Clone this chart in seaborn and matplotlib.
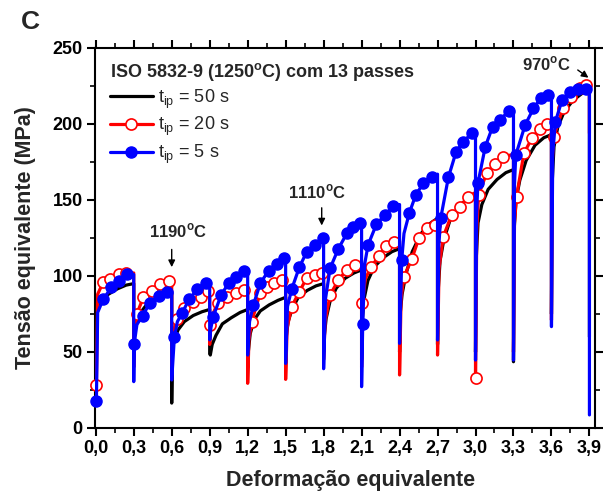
import numpy as np
import pandas as pd
import matplotlib
matplotlib.use("Agg")
import matplotlib.pyplot as plt
import seaborn as sns
from matplotlib.lines import Line2D
from matplotlib.ticker import MultipleLocator, FuncFormatter

# ---------------- data ----------------
pass_start = [0.0, 0.3, 0.6, 0.9, 1.2, 1.5, 1.8, 2.1, 2.4, 2.7, 3.0, 3.3, 3.6]
pass_len = 0.3
pass_end = 3.9

# ---- t_ip = 50 s (black, continuous line) ----
black_low = [60, 52, 16.4, 49, 40, 45, 50, 45, 50, 55, 50, 43.6, 75]
black_end_low = 60
black_off = [0.005, 0.02, 0.05, 0.10, 0.17, 0.24, 0.30]
black_vals = [
    [72, 80, 85, 88, 91.5, 94, 95],
    [62, 70, 75.5, 81, 85, 87.5, 89],
    [52, 58, 64.5, 70, 74, 76.5, 78],
    [48, 55, 61, 68.5, 72.5, 76, 78],
    [50, 62, 71, 77, 81, 84, 86],
    [60, 70, 78, 86, 90.5, 93.5, 95],
    [60, 72, 83, 92, 98.5, 102, 104],
    [70, 85, 97, 106, 112, 116, 118],
    [75, 88, 101, 116, 128, 134.5, 138],
    [90, 110, 124, 137, 146, 151, 154],
    [110, 135, 147, 157, 163.5, 168, 170],
    [130, 150, 163, 176, 186, 191, 193],
    [160, 185, 198, 208, 215.5, 220, 222],
]

# ---- t_ip = 20 s (red, open circles) ----
red_low = [28, 40, 35, 55, 29.4, 32, 45, 40, 34.9, 48, 33.1, 50, 71]
red_end_low = 194
red_mark_off = [
    [0.005, 0.058, 0.116, 0.184, 0.24],
    [0.024, 0.076, 0.142, 0.208, 0.279],
    [0.039, 0.10, 0.165, 0.23, 0.288],
    [0.005, 0.065, 0.14, 0.209, 0.269],
    [0.032, 0.098, 0.15, 0.21, 0.27],
    [0.048, 0.108, 0.166, 0.23, 0.29],
    [0.051, 0.117, 0.183, 0.248],
    [0.007, 0.073, 0.139, 0.192, 0.257],
    [0.035, 0.096, 0.154, 0.22, 0.28],
    [0.045, 0.111, 0.177, 0.243],
    [0.0, 0.024, 0.087, 0.156, 0.219],
    [0.024, 0.082, 0.148, 0.206, 0.261],
    [0.019, 0.09, 0.156, 0.222, 0.274],
]
red_mark_val = [
    [28, 95.8, 97.8, 101, 102],
    [75, 86, 90.3, 94.5, 96.9],
    [72, 79, 83, 86.4, 90.3],
    [68, 82.5, 86.4, 88.6, 90.8],
    [70, 88.6, 93, 95.5, 97.6],
    [79.8, 89.7, 98.5, 100.5, 101.8],
    [87.5, 97.4, 104, 107],
    [82.5, 106, 113, 119.7, 122.6],
    [99.6, 111, 125.2, 131.4, 133.5],
    [125.9, 140, 145.6, 152.2],
    [33.1, 153.3, 167.5, 174, 178.5],
    [152.2, 180.7, 191, 196.7, 200],
    [191.6, 210.3, 218, 223.5, 225.6],
]
red_knee_off = [0.015, 0.008, 0.01, 0.02, 0.01, 0.012, 0.012, 0.03, 0.012, 0.012, 0.01, 0.008, 0.006]
red_knee_val = [88, 66, 60, 74, 58, 66, 70, 98, 85, 105, 130, 135, 175]
red_end = [102, 98, 91, 92, 98, 103, 108, 123, 134, 155, 180, 201, 226]

# ---- t_ip = 5 s (blue, filled circles) ----
blue_low = [18, 30.5, 31.6, 58, 48, 42.5, 39, 27.2, 55.7, 57.9, 44.7, 44.7, 66.7]
blue_end_low = 8.6
blue_mark_off = [
    [0.005, 0.058, 0.124, 0.187, 0.25],
    [0.003, 0.07, 0.13, 0.20, 0.26],
    [0.021, 0.084, 0.137, 0.203, 0.268],
    [0.028, 0.09, 0.149, 0.207, 0.273],
    [0.045, 0.10, 0.165, 0.228, 0.285],
    [0.048, 0.108, 0.167, 0.232, 0.293],
    [0.051, 0.116, 0.183, 0.235, 0.285],
    [0.009, 0.051, 0.117, 0.183, 0.25],
    [0.017, 0.078, 0.128, 0.188, 0.254],
    [0.025, 0.086, 0.147, 0.205, 0.27],
    [0.019, 0.077, 0.135, 0.195, 0.261],
    [0.018, 0.092, 0.158, 0.216, 0.276],
    [0.031, 0.084, 0.144, 0.208, 0.274],
]
blue_mark_val = [
    [18, 84.6, 92.5, 96.9, 101.3],
    [55, 74, 82.5, 87, 89.5],
    [59.7, 75.9, 84.6, 91.2, 95.6],
    [73.2, 87.5, 95.2, 99.6, 103.5],
    [80.9, 95.2, 103.5, 108, 111.6],
    [91.4, 105.7, 116, 120.4, 124.8],
    [105, 117.8, 128, 132.5, 135],
    [68.4, 120.4, 134, 140, 146],
    [110.5, 141.7, 153.3, 161, 165.4],
    [138, 165, 181.8, 188.4, 193.9],
    [161, 185, 198.2, 202.6, 208.6],
    [179.6, 199.3, 210.3, 216.9, 219],
    [201.5, 215.8, 221.3, 222.8, 222.8],
]
blue_knee_off = [0.015, 0.025, 0.045, 0.01, 0.015, 0.015, 0.015, 0.025, 0.035, 0.01, 0.008, 0.008, 0.01]
blue_knee_val = [76, 68, 70, 66, 70, 80, 85, 108, 128, 120, 140, 160, 180]
blue_end = [101, 90, 96, 104.5, 112, 125, 135.5, 147, 167, 195, 209.5, 220, 223]

legend_title = "ISO 5832-9 (1250$^{\\mathregular{o}}$C) com 13 passes"
labels = ["t$_{\\mathregular{ip}}$ = 50 s", "t$_{\\mathregular{ip}}$ = 20 s", "t$_{\\mathregular{ip}}$ = 5 s"]


def build_black():
    xs, ys = [], []
    for k, s0 in enumerate(pass_start):
        xs.append(s0)
        ys.append(black_low[k])
        for off, v in zip(black_off, black_vals[k]):
            xs.append(s0 + off)
            ys.append(v)
    xs.append(pass_end)
    ys.append(black_end_low)
    return pd.DataFrame({"strain": xs, "stress": ys})


def build_marked(low, m_off, m_val, k_off, k_val, end, end_low):
    xs, ys, mx, my = [], [], [], []
    for k, s0 in enumerate(pass_start):
        pts = list(zip(m_off[k], m_val[k])) + [(k_off[k], k_val[k])]
        pts.sort(key=lambda p: p[0])
        xs.append(s0)
        ys.append(low[k])
        for off, v in pts:
            xs.append(s0 + off)
            ys.append(v)
        xs.append(s0 + pass_len)
        ys.append(end[k])
        for off, v in zip(m_off[k], m_val[k]):
            mx.append(s0 + off)
            my.append(v)
    xs.append(pass_end)
    ys.append(end_low)
    return (pd.DataFrame({"strain": xs, "stress": ys}),
            pd.DataFrame({"strain": mx, "stress": my}))


black_line = build_black()
red_line, red_marks = build_marked(red_low, red_mark_off, red_mark_val, red_knee_off,
                                   red_knee_val, red_end, red_end_low)
blue_line, blue_marks = build_marked(blue_low, blue_mark_off, blue_mark_val, blue_knee_off,
                                     blue_knee_val, blue_end, blue_end_low)

# ---------------- style ----------------
sns.set_theme(style="ticks")
plt.rcParams["font.family"] = ["Liberation Sans", "DejaVu Sans"]
plt.rcParams["mathtext.fontset"] = "custom"
plt.rcParams["mathtext.rm"] = "Liberation Sans"
plt.rcParams["mathtext.bf"] = "Liberation Sans:bold"

BLACK, RED, BLUE = "#000000", "#FF0000", "#0000FF"

fig = plt.figure(figsize=(6.04, 5.0), dpi=100)
ax = fig.add_axes([0.1575, 0.144, 0.8276, 0.76])

lw = 2.3
sns.lineplot(data=black_line, x="strain", y="stress", sort=False, estimator=None,
             color=BLACK, linewidth=lw, ax=ax, zorder=2)
sns.lineplot(data=red_line, x="strain", y="stress", sort=False, estimator=None,
             color=RED, linewidth=lw, ax=ax, zorder=3)
ax.plot(red_marks["strain"], red_marks["stress"], linestyle="none", marker="o",
        markersize=8, markerfacecolor="white", markeredgecolor=RED,
        markeredgewidth=1.2, zorder=4, clip_on=False)
sns.lineplot(data=blue_line, x="strain", y="stress", sort=False, estimator=None,
             color=BLUE, linewidth=lw, ax=ax, zorder=5)
ax.plot(blue_marks["strain"], blue_marks["stress"], linestyle="none", marker="o",
        markersize=8, markerfacecolor=BLUE, markeredgecolor=BLUE, zorder=6,
        clip_on=False)

ax.set_xlim(-0.005, 3.944)
ax.set_ylim(0, 250)
ax.xaxis.set_major_locator(MultipleLocator(0.3))
ax.xaxis.set_minor_locator(MultipleLocator(0.15))
ax.yaxis.set_major_locator(MultipleLocator(50))
ax.yaxis.set_minor_locator(MultipleLocator(25))
ax.xaxis.set_major_formatter(FuncFormatter(lambda v, p: f"{v:.1f}".replace(".", ",")))
ax.yaxis.set_major_formatter(FuncFormatter(lambda v, p: f"{v:.0f}"))

for sp in ax.spines.values():
    sp.set_linewidth(1.5)
    sp.set_color("black")
ax.tick_params(which="major", direction="out", length=6, width=1.5, colors="black",
               labelsize=13, top=True, right=True, pad=3)
ax.tick_params(which="minor", direction="out", length=3.5, width=1.2, colors="black",
               top=True, right=True)
for t in ax.get_xticklabels() + ax.get_yticklabels():
    t.set_fontweight("bold")

ax.set_xlabel("Deformação equivalente", fontsize=15.5, fontweight="bold")
ax.set_ylabel("Tensão equivalente (MPa)", fontsize=15.5, fontweight="bold")
ax.xaxis.set_label_coords(0.51, -0.11)
ax.yaxis.set_label_coords(-0.118, 0.5)

# legend
handles = [
    Line2D([], [], color=BLACK, linewidth=lw),
    Line2D([], [], color=RED, linewidth=lw, marker="o", markersize=8,
           markerfacecolor="white", markeredgecolor=RED, markeredgewidth=1.2),
    Line2D([], [], color=BLUE, linewidth=lw, marker="o", markersize=8,
           markerfacecolor=BLUE, markeredgecolor=BLUE),
]
leg = ax.legend(handles, labels, title=legend_title, loc="upper left",
                bbox_to_anchor=(0.0, 1.004), frameon=False, fontsize=13,
                title_fontproperties={"weight": "bold", "size": 13},
                handlelength=2.4, handletextpad=0.3, labelspacing=0.25,
                borderaxespad=0.4)
leg._legend_box.align = "left"

# annotations
ann_kw = dict(fontsize=12, fontweight="bold", ha="center", va="center")
arrow_kw = dict(arrowstyle="-|>", color="black", lw=1.0, mutation_scale=10)
ax.text(0.65, 129.6, "1190$^{\\mathregular{o}}$C", **ann_kw)
ax.annotate("", xy=(0.6, 104), xytext=(0.6, 119.3), arrowprops=arrow_kw)
ax.text(1.75, 155.5, "1110$^{\\mathregular{o}}$C", **ann_kw)
ax.annotate("", xy=(1.785, 131.4), xytext=(1.785, 146.7), arrowprops=arrow_kw)
ax.text(3.56, 239.8, "970$^{\\mathregular{o}}$C", **ann_kw)
ax.annotate("", xy=(3.91, 229.4), xytext=(3.79, 236.6), arrowprops=arrow_kw)

fig.text(0.051, 0.956, "C", fontsize=19, fontweight="bold", ha="center", va="center")

fig.savefig("out.png", dpi=100)
